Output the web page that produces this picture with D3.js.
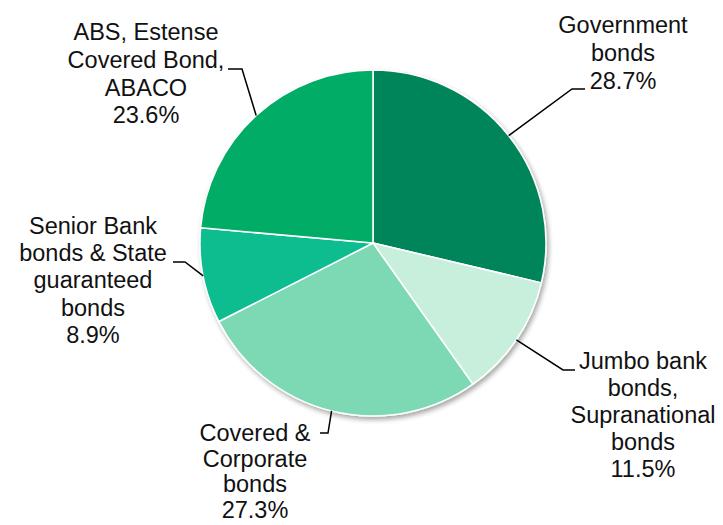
<!DOCTYPE html>
<html>
<head>
<meta charset="utf-8">
<script src="https://cdn.jsdelivr.net/npm/d3@7"></script>
<style>
  body { margin: 0; background: #fff; }
  svg { display: block; }
  text { font-family: 'Liberation Sans', Arial, sans-serif; font-size: 23.5px; fill: #111; }
</style>
</head>
<body>
<div id="chart"></div>
<script>
// data, clockwise from 12 o'clock
const categories = [
  ['Government', 'bonds'],
  ['Jumbo bank', 'bonds,', 'Supranational', 'bonds'],
  ['Covered &', 'Corporate', 'bonds'],
  ['Senior Bank', 'bonds & State', 'guaranteed', 'bonds'],
  ['ABS, Estense', 'Covered Bond,', 'ABACO']
];
const shares = [28.7, 11.5, 27.3, 8.9, 23.6];
const colors = ['#00845a', '#c8eedc', '#7bd9b4', '#09bd8f', '#00ac66'];

// label placement: elbow of leader line, end of short horizontal, text centre, first baseline, line step
const labelLayout = [
  { ex: 572, ey: 89, hx: 585, tx: 623, ty: 33, step: 28 },
  { ex: 563, ey: 370, hx: 575, tx: 643, ty: 369, step: 27 },
  { ex: 328, ey: 433, hx: 320, tx: 255, ty: 441, step: 25.5 },
  { ex: 185, ey: 262, hx: 173, tx: 93, ty: 234, step: 27.2 },
  { ex: 242, ey: 69, hx: 228, tx: 146, ty: 40, step: 27.8 }
];

const width = 723;
const height = 525;
const cx = 373;
const cy = 243;
const radius = 173;

const svg = d3.select('#chart')
    .append('svg')
    .attr('width', width)
    .attr('height', height);

const defs = svg.append('defs');
const shadow = defs.append('filter')
    .attr('id', 'shadow')
    .attr('x', '-10%').attr('y', '-10%')
    .attr('width', '130%').attr('height', '130%');
shadow.append('feGaussianBlur').attr('in', 'SourceAlpha').attr('stdDeviation', 2.5);
shadow.append('feOffset').attr('dx', 2).attr('dy', 3).attr('result', 'blur');
shadow.append('feComponentTransfer').append('feFuncA').attr('type', 'linear').attr('slope', 0.35);
const merge = shadow.append('feMerge');
merge.append('feMergeNode');
merge.append('feMergeNode').attr('in', 'SourceGraphic');

const rows = shares.map((v, i) => ({ value: v, lines: categories[i], color: colors[i], layout: labelLayout[i] }));

const pie = d3.pie()
    .value(d => d.value)
    .sort(null);

const arc = d3.arc()
    .innerRadius(0)
    .outerRadius(radius);

const arcs = pie(rows);

const g = svg.append('g')
    .attr('transform', 'translate(' + cx + ',' + cy + ')');

g.append('g')
    .attr('filter', 'url(#shadow)')
  .selectAll('path')
  .data(arcs)
  .join('path')
    .attr('d', arc)
    .attr('fill', d => d.data.color)
    .attr('stroke', '#fff')
    .attr('stroke-width', 1.5)
    .attr('stroke-linejoin', 'round');

// leader lines
svg.append('g')
  .selectAll('polyline')
  .data(arcs)
  .join('polyline')
    .attr('fill', 'none')
    .attr('stroke', '#000')
    .attr('stroke-width', 1.5)
    .attr('points', d => {
      const mid = (d.startAngle + d.endAngle) / 2;
      const x0 = cx + radius * Math.sin(mid);
      const y0 = cy - radius * Math.cos(mid);
      const l = d.data.layout;
      return [[x0, y0], [l.ex, l.ey], [l.hx, l.ey]].map(p => p.join(',')).join(' ');
    });

// labels
const labels = svg.append('g')
  .selectAll('text')
  .data(arcs)
  .join('text')
    .attr('text-anchor', 'middle')
    .attr('x', d => d.data.layout.tx)
    .attr('y', d => d.data.layout.ty);

labels.each(function(d) {
  const t = d3.select(this);
  const l = d.data.layout;
  const lines = d.data.lines.concat([d.data.value.toFixed(1) + '%']);
  lines.forEach((line, i) => {
    t.append('tspan')
        .attr('x', l.tx)
        .attr('y', l.ty + i * l.step)
        .text(line);
  });
});
</script>
</body>
</html>
